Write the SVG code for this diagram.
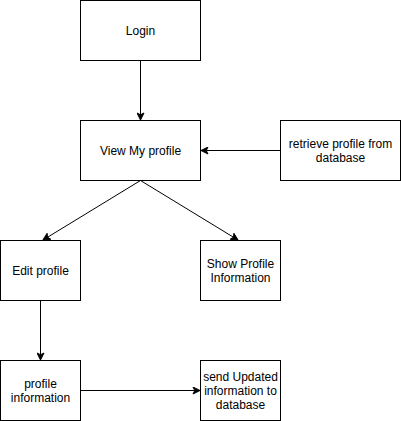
<svg xmlns="http://www.w3.org/2000/svg" width="401" height="421" viewBox="0 0 401 421">
<defs>
<style>
.box{fill:#fff;stroke:#000;stroke-width:1}
.t{font-family:"Liberation Sans",Arial,sans-serif;font-size:12px;fill:#000;text-anchor:middle;dominant-baseline:central}
.e{fill:none;stroke:#000;stroke-width:1}
</style>
<marker id="arr" viewBox="-8 -4 9 8" refX="0" refY="0" markerWidth="9" markerHeight="8" markerUnits="userSpaceOnUse" orient="auto">
<path d="M0,0 L-7,-3.5 L-5.25,0 L-7,3.5 Z" fill="#000" stroke="#000" stroke-width="1"/>
</marker>
</defs>
<rect width="401" height="421" fill="#fff"/>
<g id="connectors">
<path class="e" d="M140.5,60.5 L140.5,120" marker-end="url(#arr)"/>
<path class="e" d="M280.5,150.5 L201,150.5" marker-end="url(#arr)"/>
<path class="e" d="M140.5,180.5 L43,240" marker-end="url(#arr)"/>
<path class="e" d="M140.5,180.5 L238,240" marker-end="url(#arr)"/>
<path class="e" d="M40.5,300.5 L40.5,360" marker-end="url(#arr)"/>
<path class="e" d="M80.5,390.5 L200,390.5" marker-end="url(#arr)"/>
</g>
<g id="login"><rect class="box" x="80.5" y="0.5" width="120" height="60"/><text class="t" x="140.5" y="30.5">Login</text></g>
<g id="view"><rect class="box" x="80.5" y="120.5" width="120" height="60"/><text class="t" x="140.5" y="150.5">View My profile</text></g>
<g id="retrieve"><rect class="box" x="280.5" y="120.5" width="120" height="60"/><text class="t" x="340.5" y="143.5">retrieve profile from</text><text class="t" x="340.5" y="157.5">database</text></g>
<g id="edit"><rect class="box" x="0.5" y="240.5" width="80" height="60"/><text class="t" x="40.5" y="270.5">Edit profile</text></g>
<g id="show"><rect class="box" x="200.5" y="240.5" width="80" height="60"/><text class="t" x="240.5" y="263.5">Show Profile</text><text class="t" x="240.5" y="277.5">Information</text></g>
<g id="profileinfo"><rect class="box" x="0.5" y="360.5" width="80" height="60"/><text class="t" x="40.5" y="383.5">profile</text><text class="t" x="40.5" y="397.5">information</text></g>
<g id="send"><rect class="box" x="200.5" y="360.5" width="80" height="60"/><text class="t" x="240.5" y="376.5">send Updated</text><text class="t" x="240.5" y="390.5">information to</text><text class="t" x="240.5" y="404.5">database</text></g>
</svg>
